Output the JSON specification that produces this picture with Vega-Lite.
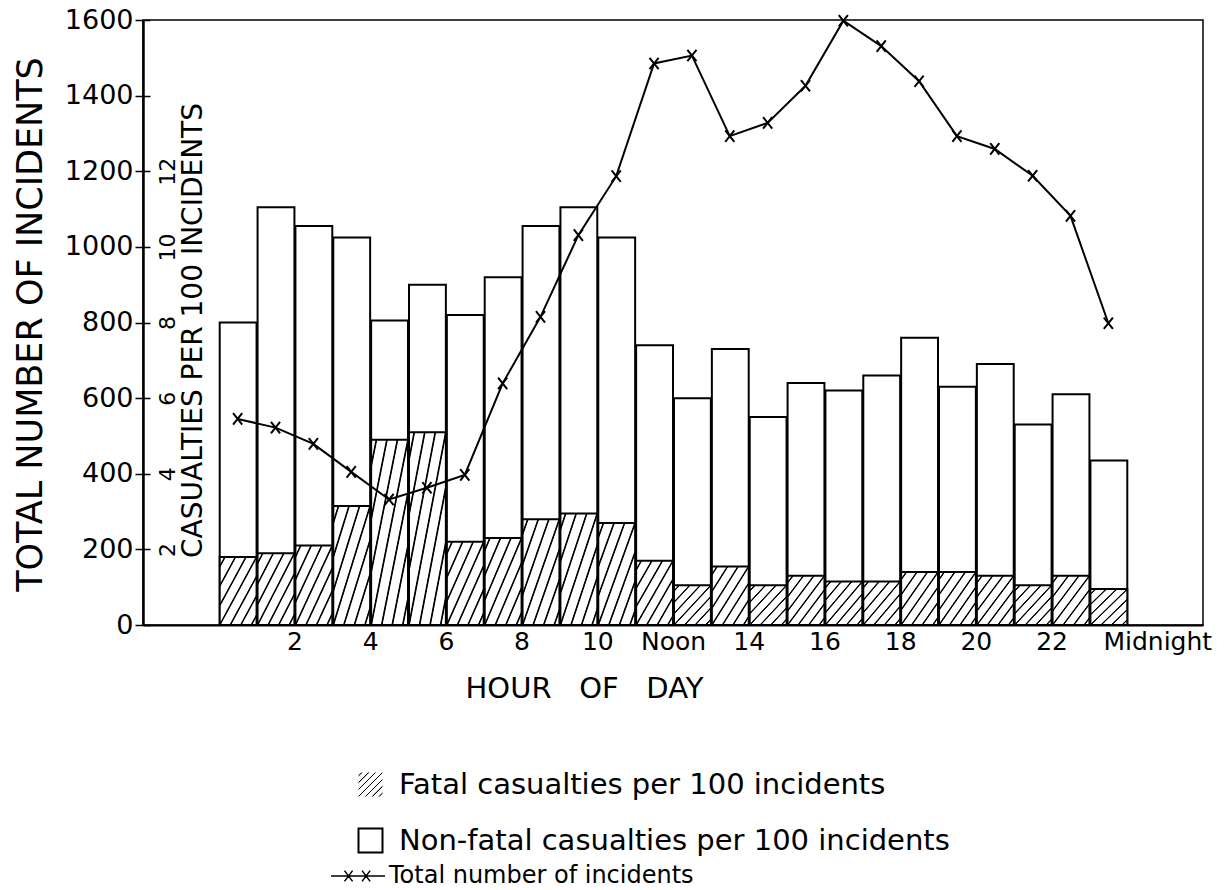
{
  "$schema": "https://vega.github.io/schema/vega-lite/v6.json",
  "width": 1060,
  "height": 605,
  "autosize": {"type": "none"},
  "padding": {"left": 143, "top": 20, "right": 21, "bottom": 265},
  "background": "white",
  "config": {
    "font": "DejaVu Sans",
    "view": {"stroke": "black", "strokeWidth": 1.5},
    "axis": {"labelColor": "black", "titleColor": "black", "titleFontWeight": "normal", "grid": false, "labelFont": "DejaVu Sans", "titleFont": "DejaVu Sans"},
    "legend": {"labelColor": "black", "labelFont": "DejaVu Sans", "labelLimit": 0}
  },
  "data": {"values": [
    {"start": 0, "end": 1, "mid": 0.5, "total": 8.0, "fatal": 1.8, "incidents": 545},
    {"start": 1, "end": 2, "mid": 1.5, "total": 11.05, "fatal": 1.9, "incidents": 522},
    {"start": 2, "end": 3, "mid": 2.5, "total": 10.55, "fatal": 2.1, "incidents": 479},
    {"start": 3, "end": 4, "mid": 3.5, "total": 10.25, "fatal": 3.15, "incidents": 405},
    {"start": 4, "end": 5, "mid": 4.5, "total": 8.05, "fatal": 4.9, "incidents": 332},
    {"start": 5, "end": 6, "mid": 5.5, "total": 9.0, "fatal": 5.1, "incidents": 363},
    {"start": 6, "end": 7, "mid": 6.5, "total": 8.2, "fatal": 2.2, "incidents": 397},
    {"start": 7, "end": 8, "mid": 7.5, "total": 9.2, "fatal": 2.3, "incidents": 639},
    {"start": 8, "end": 9, "mid": 8.5, "total": 10.55, "fatal": 2.8, "incidents": 815},
    {"start": 9, "end": 10, "mid": 9.5, "total": 11.05, "fatal": 2.95, "incidents": 1031},
    {"start": 10, "end": 11, "mid": 10.5, "total": 10.25, "fatal": 2.7, "incidents": 1187},
    {"start": 11, "end": 12, "mid": 11.5, "total": 7.4, "fatal": 1.7, "incidents": 1485},
    {"start": 12, "end": 13, "mid": 12.5, "total": 6.0, "fatal": 1.05, "incidents": 1506},
    {"start": 13, "end": 14, "mid": 13.5, "total": 7.3, "fatal": 1.55, "incidents": 1293},
    {"start": 14, "end": 15, "mid": 14.5, "total": 5.5, "fatal": 1.05, "incidents": 1328},
    {"start": 15, "end": 16, "mid": 15.5, "total": 6.4, "fatal": 1.3, "incidents": 1426},
    {"start": 16, "end": 17, "mid": 16.5, "total": 6.2, "fatal": 1.15, "incidents": 1598},
    {"start": 17, "end": 18, "mid": 17.5, "total": 6.6, "fatal": 1.15, "incidents": 1531},
    {"start": 18, "end": 19, "mid": 18.5, "total": 7.6, "fatal": 1.4, "incidents": 1438},
    {"start": 19, "end": 20, "mid": 19.5, "total": 6.3, "fatal": 1.4, "incidents": 1293},
    {"start": 20, "end": 21, "mid": 20.5, "total": 6.9, "fatal": 1.3, "incidents": 1259},
    {"start": 21, "end": 22, "mid": 21.5, "total": 5.3, "fatal": 1.05, "incidents": 1188},
    {"start": 22, "end": 23, "mid": 22.5, "total": 6.1, "fatal": 1.3, "incidents": 1082},
    {"start": 23, "end": 24, "mid": 23.5, "total": 4.35, "fatal": 0.95, "incidents": 798}
  ]},
  "layer": [
    {
      "layer": [
        {
          "mark": {"type": "bar", "fill": "white", "strokeWidth": 2},
          "encoding": {
            "x": {"field": "start", "type": "quantitative", "bin": {"binned": true, "step": 1},
              "scale": {"domain": [-2, 26], "nice": false, "zero": false},
              "axis": {
                "values": [2, 4, 6, 8, 10, 12, 14, 16, 18, 20, 22, 24],
                "labelExpr": "datum.value == 12 ? 'Noon' : (datum.value == 24 ? 'Midnight' : datum.label)",
                "ticks": false,
                "domainColor": "black", "domainWidth": 2,
                "labelFontSize": 25, "labelPadding": 4,
                "labelOffset": {"condition": {"test": "datum.value == 24", "value": 30}, "value": 0},
                "title": "HOUR\u00a0\u00a0 OF\u00a0\u00a0 DAY", "titleFontSize": 29,
                "titleX": 441, "titleY": 63, "titleAlign": "center", "titleBaseline": "middle"
              }},
            "x2": {"field": "end"},
            "y": {"field": "total", "type": "quantitative",
              "scale": {"domain": [0, 16], "nice": false, "zero": true},
              "axis": {
                "orient": "right", "offset": -1060,
                "values": [0, 1, 2, 3, 4, 5, 6, 7, 8, 9, 10, 11, 12, 13, 14, 15, 16],
                "labelExpr": "(datum.value >= 2 && datum.value <= 12 && datum.value % 2 == 0) ? datum.label : ''",
                "domain": false, "tickSize": 7, "tickWidth": 1.5, "tickColor": "black",
                "labelAngle": -90, "labelAlign": "center", "labelBaseline": "top",
                "labelFontSize": 22, "labelPadding": 7,
                "title": "CASUALTIES PER 100 INCIDENTS", "titleFontSize": 28,
                "titleAngle": -90, "titleX": 50, "titleY": 310, "titleAlign": "center", "titleBaseline": "middle"
              }},
            "stroke": {"datum": "Non-fatal casualties per 100 incidents",
              "scale": {"range": ["black"]},
              "legend": {
                "orient": "none", "legendX": 213, "legendY": 806, "title": null,
                "symbolType": "square", "symbolSize": 576, "symbolStrokeWidth": 2, "symbolFillColor": "white",
                "labelFontSize": 29, "labelOffset": 14, "padding": 0, "labelLimit": 0
              }}
          }
        },
        {
          "mark": {"type": "bar", "stroke": "black", "strokeWidth": 2,
            "fill": {"gradient": "linear", "x1": 0, "y1": 0, "x2": 1, "y2": 1, "stops": [
              {"offset": 0, "color": "white"},
              {"offset": 0.0534, "color": "white"}, {"offset": 0.0654, "color": "black"}, {"offset": 0.0774, "color": "black"}, {"offset": 0.0894, "color": "white"},
              {"offset": 0.1963, "color": "white"}, {"offset": 0.2083, "color": "black"}, {"offset": 0.2203, "color": "black"}, {"offset": 0.2323, "color": "white"},
              {"offset": 0.3391, "color": "white"}, {"offset": 0.3511, "color": "black"}, {"offset": 0.3631, "color": "black"}, {"offset": 0.3751, "color": "white"},
              {"offset": 0.482, "color": "white"}, {"offset": 0.494, "color": "black"}, {"offset": 0.506, "color": "black"}, {"offset": 0.518, "color": "white"},
              {"offset": 0.6249, "color": "white"}, {"offset": 0.6369, "color": "black"}, {"offset": 0.6489, "color": "black"}, {"offset": 0.6609, "color": "white"},
              {"offset": 0.7677, "color": "white"}, {"offset": 0.7797, "color": "black"}, {"offset": 0.7917, "color": "black"}, {"offset": 0.8037, "color": "white"},
              {"offset": 0.9106, "color": "white"}, {"offset": 0.9226, "color": "black"}, {"offset": 0.9346, "color": "black"}, {"offset": 0.9466, "color": "white"},
              {"offset": 1, "color": "white"}
            ]}},
          "encoding": {
            "x": {"field": "start", "type": "quantitative", "bin": {"binned": true, "step": 1}, "scale": {"domain": [-2, 26], "nice": false, "zero": false}},
            "x2": {"field": "end"},
            "y": {"field": "fatal", "type": "quantitative", "scale": {"domain": [0, 16], "nice": false, "zero": true}},
            "strokeDash": {"datum": "Fatal casualties per 100 incidents",
              "scale": {"range": [[1, 0]]},
              "legend": {
                "orient": "none", "legendX": 213, "legendY": 750, "title": null,
                "symbolType": "M-1,-1L1,-1L1,1L-1,1Z M-1,-0.33L-0.33,-1 M-1,0.33L0.33,-1 M-1,1L1,-1 M-0.33,1L1,-0.33 M0.33,1L1,0.33",
                "symbolSize": 576, "symbolStrokeColor": "black", "symbolStrokeWidth": 1.5, "symbolFillColor": "white",
                "labelFontSize": 29, "labelOffset": 14, "padding": 0, "labelLimit": 0
              }}
          }
        }
      ]
    },
    {
      "layer": [
        {
          "mark": {"type": "line", "strokeWidth": 2},
          "encoding": {
            "x": {"field": "mid", "type": "quantitative", "scale": {"domain": [-2, 26], "nice": false, "zero": false}},
            "y": {"field": "incidents", "type": "quantitative",
              "scale": {"domain": [0, 1600], "nice": false, "zero": true},
              "axis": {
                "orient": "left", "format": "d",
                "values": [0, 200, 400, 600, 800, 1000, 1200, 1400, 1600],
                "domainColor": "black", "domainWidth": 2.5,
                "tickSize": 8, "tickWidth": 1.5, "tickColor": "black",
                "labelFontSize": 27, "labelPadding": 2, "labelBaseline": "middle",
                "title": "TOTAL NUMBER OF INCIDENTS", "titleFontSize": 35,
                "titleAngle": -90, "titleX": -113, "titleY": 304, "titleAlign": "center", "titleBaseline": "middle"
              }},
            "stroke": {"datum": "Total number of incidents",
              "scale": {"range": ["black"]},
              "legend": {
                "orient": "none", "legendX": 187, "legendY": 828, "title": null,
                "symbolType": "M-1,0L1,0M-0.5,-0.2L-0.2,0.2M-0.5,0.2L-0.2,-0.2M0.15,-0.2L0.45,0.2M0.15,0.2L0.45,-0.2",
                "symbolSize": 2916, "symbolStrokeColor": "black", "symbolStrokeWidth": 1.5, "symbolFillColor": "transparent",
                "labelFontSize": 24, "labelOffset": 3, "padding": 0, "labelLimit": 0
              }}
          }
        },
        {
          "mark": {"type": "point", "shape": "M-0.8,-1L0.8,1M-0.8,1L0.8,-1", "size": 130, "filled": false, "stroke": "black", "strokeWidth": 2, "opacity": 1},
          "encoding": {
            "x": {"field": "mid", "type": "quantitative", "scale": {"domain": [-2, 26], "nice": false, "zero": false}},
            "y": {"field": "incidents", "type": "quantitative", "scale": {"domain": [0, 1600], "nice": false, "zero": true}}
          }
        }
      ]
    }
  ],
  "resolve": {"scale": {"y": "independent", "stroke": "independent"}, "axis": {"y": "independent"}, "legend": {"stroke": "independent"}}
}
